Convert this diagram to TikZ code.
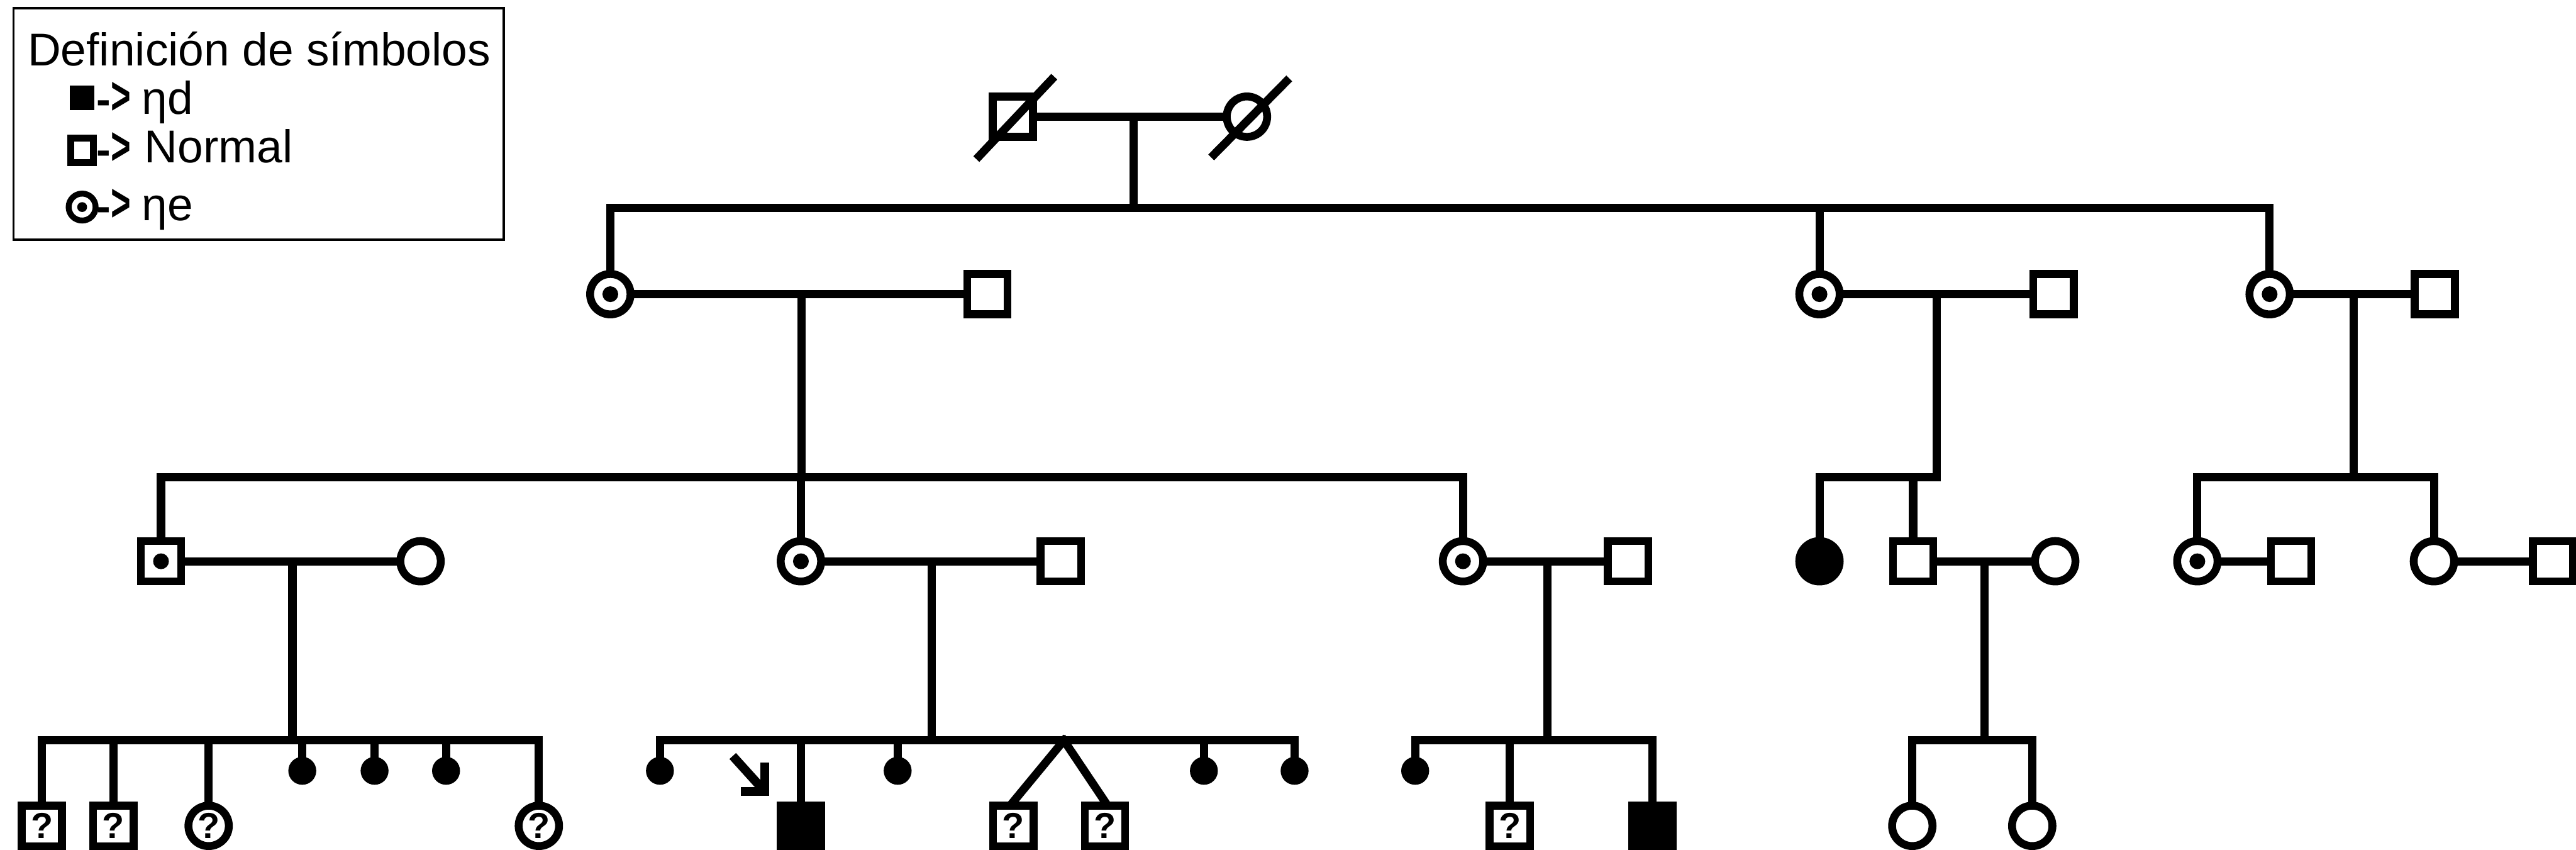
\documentclass[tikz,border=0pt]{standalone}
\usepackage{fontspec}
\usepackage{graphicx}
\setmainfont{Liberation Sans}
\begin{document}
\begin{tikzpicture}[x=0.5pt,y=-0.5pt,
  person/.style={draw, line width=2.4pt, inner sep=0pt, minimum size=12.3pt,
    font=\fontsize{11pt}{11pt}\selectfont\bfseries},
  male/.style={person, rectangle},
  female/.style={person, circle},
  carrier/.style={path picture={\fill (path picture bounding box.center) circle (2.4pt);}},
  affected/.style={fill=black},
  loss/.style={circle, fill=black, inner sep=0pt, minimum size=8.5pt},
  link/.style={line width=2.5pt, line cap=rect},
  legtext/.style={anchor=base west, inner sep=0pt, font=\fontsize{14pt}{16.8pt}\selectfont},
  legarrow/.style={anchor=base east, inner sep=0pt, font=\fontsize{13pt}{15pt}\selectfont\bfseries},
]
\useasboundingbox (0,0) rectangle (1568,517);
\clip (0,0) rectangle (1568,517);

% ---------- Legend ----------
\draw[line width=0.7pt] (8.2,4.9) rectangle (306.7,145.9);
\node[legtext] (title) at (16.5,40) {Definición de símbolos};
\node[fill=black, inner sep=0pt, minimum size=7.4pt] (k1) at (50,59.5) {};
\node[draw, line width=2pt, inner sep=0pt, minimum width=6.9pt, minimum height=7.5pt] (k2) at (50,91.5) {};
\node[draw, circle, line width=1.8pt, inner sep=0pt, minimum size=8.2pt,
  path picture={\fill (path picture bounding box.center) circle (1.5pt);}] (k3) at (50,126) {};
\node[legarrow] (a1) at (80,69.5) {-\scalebox{0.8}[1.25]{>}};
\node[legarrow] (a2) at (80,100) {-\scalebox{0.8}[1.25]{>}};
\node[legarrow] (a3) at (80,134.5) {-\scalebox{0.8}[1.25]{>}};
\node[legtext] (t1) at (86,69.5) {ηd};
\node[legtext] (t2) at (87.5,99) {Normal};
\node[legtext] (t3) at (86,134) {ηe};

% ---------- Generation I ----------
\node[male] (i1) at (616.5,71) {};
\node[female] (i2) at (759,71) {};
\draw[link] (i1) -- (i2);
\draw[link] ([shift={(-20.5,24)}]i1.center) -- ([shift={(23.5,-22.5)}]i1.center);
\draw[link] ([shift={(-20,23)}]i2.center) -- ([shift={(24,-21.5)}]i2.center);
\coordinate (m1) at (690,71);
\coordinate (s1) at (690,126.6);
\draw[link] (m1) -- (s1);

% ---------- Generation II ----------
\node[female,carrier] (ii1) at (371.5,179) {};
\node[male] (ii2) at (601,179) {};
\node[female,carrier] (ii3) at (1107.5,179) {};
\node[male] (ii4) at (1250,179) {};
\node[female,carrier] (ii5) at (1381.5,179) {};
\node[male] (ii6) at (1482,179) {};
\draw[link] (ii1 |- s1) -- (ii5 |- s1);
\foreach \n in {ii1,ii3,ii5} \draw[link] (\n |- s1) -- (\n.north);
\draw[link] (ii1) -- (ii2);
\draw[link] (ii3) -- (ii4);
\draw[link] (ii5) -- (ii6);
\coordinate (m2) at (488,179);   \coordinate (s2) at (488,290.4);
\coordinate (m3) at (1179,179);  \coordinate (s3) at (1179,290.4);
\coordinate (m4) at (1432.5,179);\coordinate (s4) at (1432.5,290.4);
\draw[link] (m2) -- (s2);
\draw[link] (m3) -- (s3);
\draw[link] (m4) -- (s4);

% ---------- Generation III ----------
\node[male,carrier] (iii1) at (98,341.5) {};
\node[female] (iii2) at (256,341.5) {};
\node[female,carrier] (iii3) at (487.5,341.5) {};
\node[male] (iii4) at (645.7,341.5) {};
\node[female,carrier] (iii5) at (890.5,341.5) {};
\node[male] (iii6) at (991,341.5) {};
\node[female,affected] (iii7) at (1107.5,341.5) {};
\node[male] (iii8) at (1164.5,341.5) {};
\node[female] (iii9) at (1251,341.5) {};
\node[female,carrier] (iii10) at (1337.5,341.5) {};
\node[male] (iii11) at (1394.6,341.5) {};
\node[female] (iii12) at (1481.5,341.5) {};
\node[male] (iii13) at (1554,341.5) {};

\draw[link] (iii1 |- s2) -- (iii5 |- s2);
\foreach \n in {iii1,iii3,iii5} \draw[link] (\n |- s2) -- (\n.north);
\draw[link] (iii7 |- s3) -- (s3);
\foreach \n in {iii7,iii8} \draw[link] (\n |- s3) -- (\n.north);
\draw[link] (iii10 |- s4) -- (iii12 |- s4);
\foreach \n in {iii10,iii12} \draw[link] (\n |- s4) -- (\n.north);

\draw[link] (iii1) -- (iii2);
\draw[link] (iii3) -- (iii4);
\draw[link] (iii5) -- (iii6);
\draw[link] (iii8) -- (iii9);
\draw[link] (iii10) -- (iii11);
\draw[link] (iii12) -- (iii13);
\coordinate (m5) at (178,341.5);  \coordinate (s5) at (178,450.5);
\coordinate (m6) at (567,341.5);  \coordinate (s6) at (567,450.5);
\coordinate (m7) at (942,341.5);  \coordinate (s7) at (942,450.5);
\coordinate (m8) at (1208,341.5); \coordinate (s8) at (1208,450.5);
\draw[link] (m5) -- (s5);
\draw[link] (m6) -- (s6);
\draw[link] (m7) -- (s7);
\draw[link] (m8) -- (s8);

% ---------- Generation IV ----------
% family of iii1 x iii2
\node[male] (iv1) at (25.5,502.5) {?};
\node[male] (iv2) at (69,502.5) {?};
\node[female] (iv3) at (127,502.5) {?};
\node[loss] (l1) at (184,469) {};
\node[loss] (l2) at (228,469) {};
\node[loss] (l3) at (271.5,469) {};
\node[female] (iv4) at (328,502.5) {?};
\draw[link] (iv1 |- s5) -- (iv4 |- s5);
\foreach \n in {iv1,iv2,iv3,l1,l2,l3,iv4} \draw[link] (\n |- s5) -- (\n.north);

% family of iii3 x iii4
\node[loss] (l4) at (401.7,469) {};
\node[male,affected] (iv5) at (487.5,502.5) {};
\node[loss] (l5) at (546.4,469) {};
\coordinate (tw) at (647.6,450.5);
\node[male] (iv6) at (616.8,502.5) {?};
\node[male] (iv7) at (672.6,502.5) {?};
\node[loss] (l6) at (732.8,469) {};
\node[loss] (l7) at (788,469) {};
\draw[link] (l4 |- s6) -- (l7 |- s6);
\foreach \n in {l4,iv5,l5,l6,l7} \draw[link] (\n |- s6) -- (\n.north);
\draw[link] (tw) -- (iv6.north);
\draw[link] (tw) -- (iv7.north);
% proband arrow
\coordinate (pa) at (446,460);
\coordinate (pb) at (465,481);
\draw[line width=2.7pt] (pa) -- (pb);
\draw[line width=2.6pt, line join=miter] (451,481.5) -- (465.5,481.5) -- (465.5,464);

% family of iii5 x iii6
\node[loss] (l8) at (861.4,469) {};
\node[male] (iv8) at (919,502.5) {?};
\node[male,affected] (iv9) at (1005.8,502.5) {};
\draw[link] (l8 |- s7) -- (iv9 |- s7);
\foreach \n in {l8,iv8,iv9} \draw[link] (\n |- s7) -- (\n.north);

% family of iii8 x iii9
\node[female] (iv10) at (1164,502.5) {};
\node[female] (iv11) at (1237,502.5) {};
\draw[link] (iv10 |- s8) -- (iv11 |- s8);
\foreach \n in {iv10,iv11} \draw[link] (\n |- s8) -- (\n.north);
\end{tikzpicture}
\end{document}
